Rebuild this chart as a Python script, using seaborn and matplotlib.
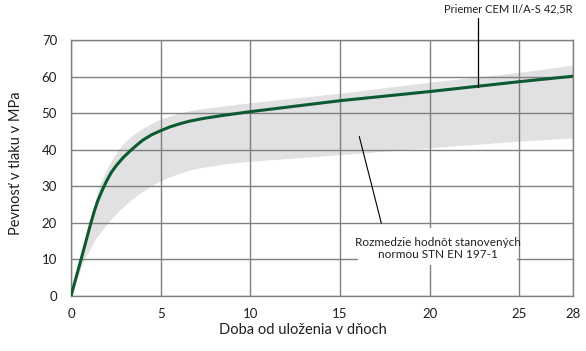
import matplotlib
matplotlib.use("Agg")
import matplotlib.pyplot as plt
import seaborn as sns
import pandas as pd
from matplotlib.patches import Rectangle

# Mean strength curve (days, MPa)
mean_days = [0, 0.56, 1.11, 1.3, 1.5, 1.75, 2.0, 2.25, 2.5, 2.9, 3.37, 3.7, 4, 4.5, 5, 5.5, 6,
             6.6, 7.44, 8.5, 10, 12.5, 15, 20, 25, 28]
mean_mpa = [0, 10, 20, 23.2, 26.1, 29.0, 31.6, 33.8, 35.5, 37.8, 40, 41.4, 42.6, 44.1, 45.2,
            46.2, 47.0, 47.8, 48.6, 49.4, 50.4, 51.9, 53.4, 55.9, 58.6, 60.1]

# Upper edge of the standard range
upper_days = [0, 0.5, 1.05, 1.6, 2.1, 2.4, 2.7, 3.0, 3.4, 4, 4.5, 5, 5.5, 6, 6.6, 7.5, 8.5,
              10, 12.5, 15, 17.5, 20, 25, 28]
upper_mpa = [0, 10, 20, 30, 35.3, 37.8, 40, 41.8, 43.6, 45.6, 47.0, 48.2, 49.0, 49.8, 50.5,
             51.2, 51.8, 52.7, 54.0, 55.3, 56.8, 58.3, 61.0, 63.0]

# Lower edge of the standard range
lower_days = [0, 0.78, 1.4, 2.1, 2.7, 3.3, 3.9, 4.5, 5, 5.5, 6, 6.6, 7.2, 7.8, 8.8, 10,
              12.5, 15, 20, 25, 28]
lower_mpa = [0, 10, 15.5, 20, 23.2, 25.8, 28.1, 30, 31.3, 32.4, 33.3, 34.2, 34.9, 35.4, 36.1,
             36.7, 37.6, 38.5, 40.4, 42.2, 43.1]

x_ticks = [0, 5, 10, 15, 20, 25, 28]
y_ticks = [0, 10, 20, 30, 40, 50, 60, 70]

label_mean = "Priemer CEM II/A-S 42,5R"
label_range = "Rozmedzie hodnôt stanovených\nnormou STN EN 197-1"
xlabel = "Doba od uloženia v dňoch"
ylabel = "Pevnosť v tlaku v MPa"

sns.set_style("white")
plt.rcParams['font.family'] = ['Lato', 'DejaVu Sans']
txt = "#231f20"
grid_c = "#808080"

fig = plt.figure(figsize=(5.86, 3.51), dpi=100)
ax = fig.add_axes([71/586, 1-296/351, (573-71)/586, (296-40)/351])

# band polygon
poly_x = upper_days + lower_days[::-1]
poly_y = upper_mpa + lower_mpa[::-1]
ax.fill(poly_x, poly_y, color="#e1e1e3", lw=0, zorder=1)

df = pd.DataFrame({"days": mean_days, "mpa": mean_mpa})
sns.lineplot(data=df, x="days", y="mpa", ax=ax, color="#0b5a30", lw=2.2, zorder=4)

ax.set_xlim(0, 28)
ax.set_ylim(0, 70)
ax.set_xticks(x_ticks)
ax.set_yticks(y_ticks)
ax.set_axisbelow(False)
ax.grid(True, color=grid_c, lw=1.0, zorder=2)
for s in ax.spines.values():
    s.set_color(grid_c)
    s.set_linewidth(1.0)
    s.set_zorder(2)
ax.tick_params(axis="both", length=0, labelsize=9.5, labelcolor=txt)
ax.tick_params(axis="x", pad=9)
ax.tick_params(axis="y", pad=10)

ax.set_xlabel("")
ax.set_ylabel("")
fig.text(303/586, 1-330/351, xlabel, ha="center", va="center", fontsize=10.5, color=txt)
fig.text(16/586, 1-163/351, ylabel, ha="center", va="center", rotation=90, fontsize=10.5, color=txt)

# annotation for mean
ax.plot([22.7, 22.7], [57.1, 76.0], color="#000000", lw=0.9, clip_on=False, zorder=5)
ax.text(28.0, 78.5, label_mean, ha="right", va="center", fontsize=8, color=txt, clip_on=False)

# annotation for range
ax.add_patch(Rectangle((16.0, 8.5), 8.87, 10.1, facecolor="white", edgecolor="none", zorder=3))
ax.plot([16.08, 17.31], [43.6, 19.9], color="#000000", lw=0.8, zorder=5)
ax.text(20.44, 13.0, label_range, ha="center", va="center", fontsize=8.5, color=txt,
        linespacing=1.1, zorder=6)

fig.savefig("out.png", dpi=100)
